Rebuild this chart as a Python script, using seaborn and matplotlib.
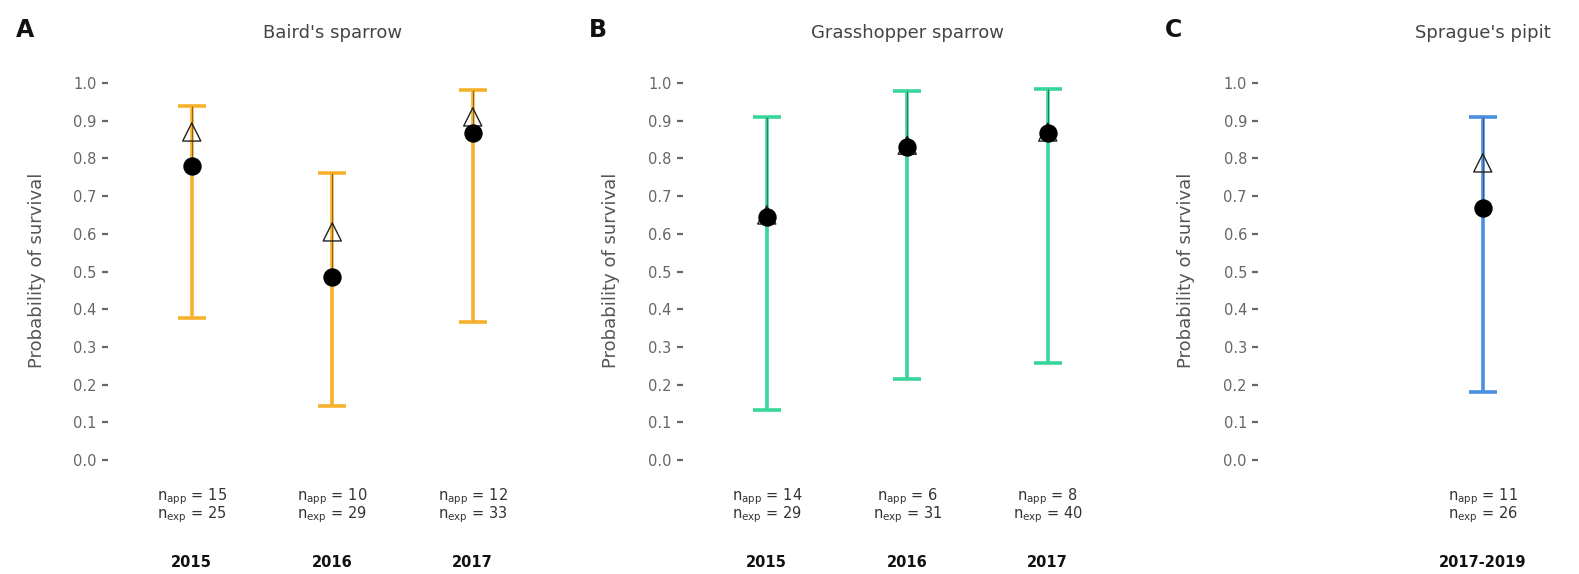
import matplotlib
matplotlib.use("Agg")
import matplotlib.pyplot as plt
import seaborn as sns
import pandas as pd
import numpy as np

sns.set_theme(style="white")
plt.rcParams['font.family'] = ['DejaVu Sans']
plt.rcParams['mathtext.default'] = 'regular'

# ---- data ----
species = ["Baird's sparrow", "Grasshopper sparrow", "Sprague's pipit"]
panel_letters = ["A", "B", "C"]
colors = ["#F7B02C", "#38D69A", "#4A8FE0"]

years_a = ["2015", "2016", "2017"]
est_a = [0.78, 0.485, 0.867]
naive_a = [0.87, 0.605, 0.91]
lo_a = [0.377, 0.143, 0.366]
hi_a = [0.939, 0.761, 0.981]
napp_a = [15, 10, 12]
nexp_a = [25, 29, 33]

years_b = ["2015", "2016", "2017"]
est_b = [0.645, 0.83, 0.867]
naive_b = [0.65, 0.835, 0.87]
lo_b = [0.133, 0.215, 0.257]
hi_b = [0.91, 0.979, 0.984]
napp_b = [14, 6, 8]
nexp_b = [29, 31, 40]

years_c = ["2017-2019"]
est_c = [0.668]
naive_c = [0.788]
lo_c = [0.18]
hi_c = [0.91]
napp_c = [11]
nexp_c = [26]

yticks = [0.0, 0.1, 0.2, 0.3, 0.4, 0.5, 0.6, 0.7, 0.8, 0.9, 1.0]

panels = [
    (years_a, est_a, naive_a, lo_a, hi_a, napp_a, nexp_a, [0, 1, 2]),
    (years_b, est_b, naive_b, lo_b, hi_b, napp_b, nexp_b, [0, 1, 2]),
    (years_c, est_c, naive_c, lo_c, hi_c, napp_c, nexp_c, [1]),
]

W, H = 1579, 574
fig = plt.figure(figsize=(W / 100, H / 100), dpi=100)

ax_lefts = [121.5, 696.5, 1272.0]
ax_w = 421.5
ax_top_px, ax_bot_px = 64.15, 478.85
ylabel_x = [37, 611, 1186]
letter_x = [25, 598, 1174]

grey = "#666666"
for i, (yrs, est, naive, lo, hi, napp, nexp, pos) in enumerate(panels):
    ax = fig.add_axes([ax_lefts[i] / W, (H - ax_bot_px) / H, ax_w / W, (ax_bot_px - ax_top_px) / H])
    ax.spines['left'].set_position(('outward', 10))
    df = pd.DataFrame({"x": pos, "est": est, "naive": naive, "lo": lo, "hi": hi, "year": yrs})
    ax.errorbar(df["x"], df["est"], yerr=[df["est"] - df["lo"], df["hi"] - df["est"]],
                fmt="none", ecolor=colors[i], elinewidth=2.6, capsize=10, capthick=2.6, zorder=1)
    ax.vlines(df["x"], df["est"], df["hi"], colors="#333333", linewidth=0.7, alpha=0.6, zorder=1.5)
    sns.scatterplot(data=df, x="x", y="naive", marker="^", s=170, facecolor="none",
                    edgecolor="#222222", linewidth=1.0, ax=ax, zorder=2, legend=False)
    sns.scatterplot(data=df, x="x", y="est", marker="o", s=150, color="black",
                    edgecolor="black", ax=ax, zorder=3, legend=False)
    ax.set_xlim(-0.5, 2.5)
    ax.set_ylim(-0.05, 1.05)
    ax.set_yticks(yticks)
    ax.set_yticklabels([f"{v:.1f}" for v in yticks])
    ax.tick_params(axis="y", length=4, width=1.6, color=grey, labelcolor=grey,
                   labelsize=10.5, pad=4, left=True)
    ax.set_xticks([])
    ax.set_xlabel("")
    ax.set_ylabel("")
    for s in ax.spines.values():
        s.set_visible(False)
    ax.set_title(species[i], color="#444444", fontsize=13, pad=19)
    for x, y_, a, e in zip(pos, yrs, napp, nexp):
        ax.text(x, -0.098, rf"$n_{{app}}$ = {a}", ha="center", va="center", fontsize=10.5,
                color="#333333", clip_on=False)
        ax.text(x, -0.146, rf"$n_{{exp}}$ = {e}", ha="center", va="center", fontsize=10.5,
                color="#333333", clip_on=False)
        ax.text(x, -0.273, y_, ha="center", va="center", fontsize=10.5, fontweight="bold",
                color="#111111", clip_on=False)
    fig.text(ylabel_x[i] / W, 1 - 270 / H, "Probability of survival", rotation=90,
             ha="center", va="center", fontsize=13, color="#555555")
    fig.text(letter_x[i] / W, 1 - 30 / H, panel_letters[i], ha="center", va="center",
             fontsize=17, fontweight="bold", color="#111111")

fig.savefig("out.png", dpi=100)
